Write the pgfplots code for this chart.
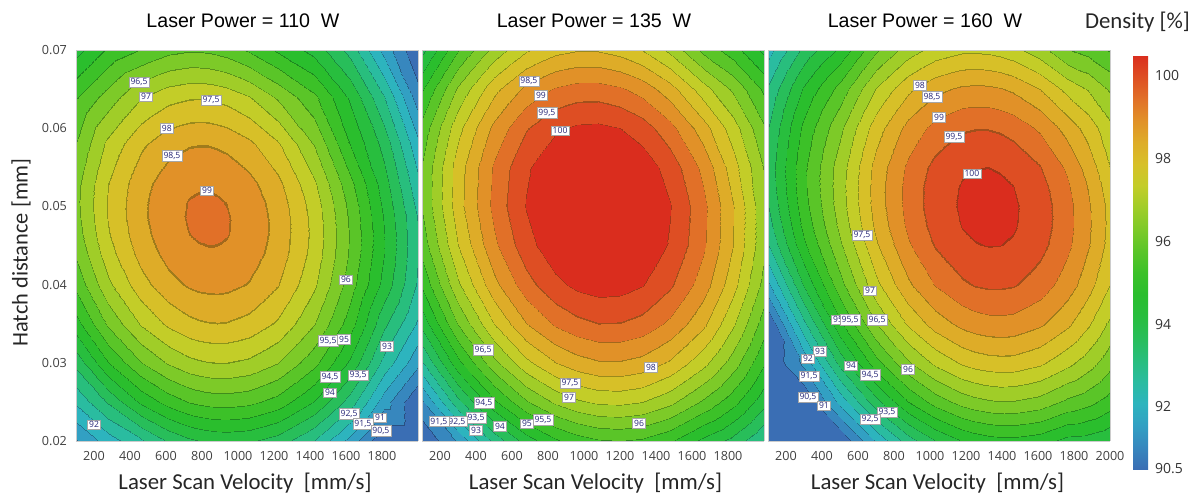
\documentclass[border=0pt]{standalone}
\usepackage{pgfplots}
\pgfplotsset{compat=1.18}
\usepackage{fontspec}
\setmainfont{Liberation Sans}
\newfontfamily\calib{Carlito}
\newfontfamily\tickf{Open Sans}

% band colours (one per 0.5 % band from 90.5 to 100.5); each band ends with a thin darker strip = contour line
\def\cmapspec{}
\newcommand\addband[4]{%
  \pgfmathtruncatemacro\nb{32-#4}%
  \foreach \k in {1,...,\nb}{\xdef\cmapspec{\cmapspec rgb255=(#1,#2,#3) }}%
  \ifnum#4>0
    \pgfmathtruncatemacro\dr{#1*0.72}\pgfmathtruncatemacro\dg{#2*0.72}\pgfmathtruncatemacro\db{#3*0.72}%
    \foreach \k in {1,...,#4}{\xdef\cmapspec{\cmapspec rgb255=(\dr,\dg,\db) }}%
  \fi}
\addband{58}{110}{180}{2}
\addband{55}{135}{190}{2}
\addband{50}{160}{195}{2}
\addband{45}{180}{190}{2}
\addband{42}{188}{160}{2}
\addband{40}{190}{125}{2}
\addband{40}{190}{90}{2}
\addband{40}{190}{62}{2}
\addband{42}{190}{45}{2}
\addband{60}{193}{40}{2}
\addband{90}{197}{40}{2}
\addband{125}{202}{40}{2}
\addband{160}{205}{40}{2}
\addband{195}{205}{40}{2}
\addband{215}{192}{40}{2}
\addband{222}{172}{40}{2}
\addband{225}{145}{40}{1}
\addband{225}{112}{40}{2}
\addband{222}{78}{35}{1}
\addband{218}{45}{30}{0}
\edef\tmp{\noexpand\pgfplotsset{colormap={denslines}{\cmapspec}}}\tmp

\pgfplotsset{
  colormap={densbar}{
    rgb255=(58,110,180) rgb255=(55,135,190) rgb255=(50,160,195) rgb255=(45,180,190)
    rgb255=(42,188,160) rgb255=(40,190,125) rgb255=(40,190,90) rgb255=(40,190,62)
    rgb255=(42,190,45) rgb255=(60,193,40) rgb255=(90,197,40) rgb255=(125,202,40)
    rgb255=(160,205,40) rgb255=(195,205,40) rgb255=(215,192,40) rgb255=(222,172,40)
    rgb255=(225,145,40) rgb255=(225,112,40) rgb255=(222,78,35) rgb255=(218,45,30)
  },
  panel/.style={
    scale only axis, width=171pt, height=195.5pt,
    view={0}{90},
    xmin=100, xmax=2000, ymin=0.02, ymax=0.07,
    enlargelimits=false,
    scaled x ticks=false, scaled y ticks=false,
    colormap name=denslines,
    colormap access=piecewise constant,
    point meta min=90.5, point meta max=100.5,
    xtick={200,400,600,800,1000,1200,1400,1600,1800},
    xticklabels={200,400,600,800,1000,1200,1400,1600,1800},
    ytick={0.02,0.03,0.04,0.05,0.06,0.07},
    ztick=\empty,
    major tick length=0pt,
    axis line style={draw=black!20, line width=0.3pt},
    tick label style={font=\tickf\fontsize{6.3}{7}\selectfont, text=black!75},
    xticklabel style={yshift=-1.5pt},
    yticklabel style={xshift=-1pt},
    /pgf/number format/assume math mode=true,
  },
}
\tikzset{lbl/.style={draw=black!35, line width=0.25pt, fill=white, inner sep=0.8pt,
  font=\tickf\fontsize{4.3}{5}\selectfont, text=black!55!blue!70!gray}}

\begin{document}
\begin{tikzpicture}
\useasboundingbox (0,0) rectangle (598pt,-248.5pt);

% ---------------- Panel 1: 110 W
\begin{axis}[panel, at={(38pt,-220.5pt)}, anchor=south west,
  yticklabels={0.02,0.03,0.04,0.05,0.06,0.07}]
\addplot3[surf, shader=interp, mesh/cols=15] table {
x y z
100 0.020 91.42
280 0.020 92.22
460 0.020 92.89
610 0.020 93.53
730 0.020 93.87
780 0.020 93.97
833 0.020 94.04
885 0.020 94.09
940 0.020 94.11
1060 0.020 94.05
1220 0.020 93.74
1420 0.020 92.97
1620 0.020 91.80
1810 0.020 90.31
2000 0.020 88.44

100 0.025 92.58
280 0.025 93.55
460 0.025 94.58
610 0.025 95.18
730 0.025 95.50
780 0.025 95.59
833 0.025 95.66
885 0.025 95.69
940 0.025 95.70
1060 0.025 95.61
1220 0.025 95.27
1420 0.025 94.46
1620 0.025 93.25
1810 0.025 91.71
2000 0.025 90.50

100 0.030 93.64
280 0.030 94.96
460 0.030 95.96
610 0.030 96.53
730 0.030 96.83
780 0.030 96.90
833 0.030 96.96
885 0.030 96.98
940 0.030 96.98
1060 0.030 96.87
1220 0.030 96.49
1420 0.030 95.64
1620 0.030 94.39
1810 0.030 92.81
2000 0.030 91.60

100 0.035 94.78
280 0.035 96.07
460 0.035 97.03
610 0.035 97.57
730 0.035 97.84
780 0.035 97.91
833 0.035 97.95
885 0.035 97.97
940 0.035 97.95
1060 0.035 97.81
1220 0.035 97.40
1420 0.035 96.51
1620 0.035 95.22
1810 0.035 93.60
2000 0.035 92.40

100 0.040 95.62
280 0.040 96.87
460 0.040 97.79
610 0.040 98.30
730 0.040 98.54
780 0.040 98.60
833 0.040 98.63
885 0.040 98.64
940 0.040 98.61
1060 0.040 98.45
1220 0.040 98.00
1420 0.040 97.07
1620 0.040 95.73
1810 0.040 94.30
2000 0.040 92.90

100 0.044 96.06
280 0.044 97.28
460 0.044 98.17
610 0.044 98.66
730 0.044 98.88
780 0.044 98.93
833 0.044 98.95
885 0.044 98.95
940 0.044 98.92
1060 0.044 98.73
1220 0.044 98.26
1420 0.044 97.30
1620 0.044 95.92
1810 0.044 94.50
2000 0.044 93.00

100 0.0465 96.24
280 0.0465 97.44
460 0.0465 98.31
610 0.0465 98.78
730 0.0465 98.99
780 0.0465 99.04
833 0.0465 99.06
885 0.0465 99.05
940 0.0465 99.01
1060 0.0465 98.81
1220 0.0465 98.32
1420 0.0465 97.34
1620 0.0465 95.94
1810 0.0465 94.50
2000 0.0465 93.00

100 0.0485 96.32
280 0.0485 97.51
460 0.0485 98.37
610 0.0485 98.83
730 0.0485 99.03
780 0.0485 99.07
833 0.0485 99.08
885 0.0485 99.07
940 0.0485 99.02
1060 0.0485 98.82
1220 0.0485 98.31
1420 0.0485 97.31
1620 0.0485 95.90
1810 0.0485 94.45
2000 0.0485 92.95

100 0.0505 96.36
280 0.0505 97.53
460 0.0505 98.37
610 0.0505 98.82
730 0.0505 99.01
780 0.0505 99.04
833 0.0505 99.05
885 0.0505 99.03
940 0.0505 98.98
1060 0.0505 98.77
1220 0.0505 98.25
1420 0.0505 97.24
1620 0.0505 95.81
1810 0.0505 94.35
2000 0.0505 92.80

100 0.053 96.32
280 0.053 97.47
460 0.053 98.30
610 0.053 98.73
730 0.053 98.91
780 0.053 98.94
833 0.053 98.94
885 0.053 98.92
940 0.053 98.86
1060 0.053 98.63
1220 0.053 98.10
1420 0.053 97.06
1620 0.053 95.62
1810 0.053 94.20
2000 0.053 92.60

100 0.058 95.99
280 0.058 97.11
460 0.058 97.89
610 0.058 98.29
730 0.058 98.44
780 0.058 98.46
833 0.058 98.46
885 0.058 98.42
940 0.058 98.36
1060 0.058 98.10
1220 0.058 97.54
1420 0.058 96.46
1620 0.058 94.97
1810 0.058 93.80
2000 0.058 92.10

100 0.064 95.44
280 0.064 96.21
460 0.064 96.95
610 0.064 97.31
730 0.064 97.43
780 0.064 97.44
833 0.064 97.42
885 0.064 97.37
940 0.064 97.29
1060 0.064 97.01
1220 0.064 96.40
1420 0.064 95.60
1620 0.064 94.40
1810 0.064 93.00
2000 0.064 91.20

100 0.070 94.29
280 0.070 95.07
460 0.070 95.51
610 0.070 95.83
730 0.070 95.93
780 0.070 95.92
833 0.070 95.89
885 0.070 95.83
940 0.070 95.74
1060 0.070 95.42
1220 0.070 94.90
1420 0.070 94.30
1620 0.070 93.30
1810 0.070 91.80
2000 0.070 90.00
};
\node[lbl] at (axis cs:450,0.0659,100) {96,5};
\node[lbl] at (axis cs:489,0.0640,100) {97};
\node[lbl] at (axis cs:850,0.0636,100) {97,5};
\node[lbl] at (axis cs:605,0.0600,100) {98};
\node[lbl] at (axis cs:633,0.0565,100) {98,5};
\node[lbl] at (axis cs:828,0.0520,100) {99};
\node[lbl] at (axis cs:1600,0.0406,100) {96};
\node[lbl] at (axis cs:1500,0.0328,100) {95,5};
\node[lbl] at (axis cs:1589,0.0330,100) {95};
\node[lbl] at (axis cs:1828,0.0321,100) {93};
\node[lbl] at (axis cs:1511,0.0282,100) {94,5};
\node[lbl] at (axis cs:1667,0.0284,100) {93,5};
\node[lbl] at (axis cs:1511,0.0262,100) {94};
\node[lbl] at (axis cs:1617,0.0235,100) {92,5};
\node[lbl] at (axis cs:1694,0.0222,100) {91,5};
\node[lbl] at (axis cs:1789,0.0230,100) {91};
\node[lbl] at (axis cs:1794,0.0213,100) {90,5};
\node[lbl] at (axis cs:200,0.0221,100) {92};
\end{axis}

% ---------------- Panel 2: 135 W
\begin{axis}[panel, at={(211pt,-220.5pt)}, anchor=south west, yticklabels={}]
\addplot3[surf, shader=interp, mesh/cols=13] table {
x y z
100 0.020 89.58
300 0.020 91.55
500 0.020 93.12
680 0.020 94.20
840 0.020 94.88
960 0.020 95.22
1080 0.020 95.42
1200 0.020 95.48
1320 0.020 95.39
1480 0.020 95.05
1660 0.020 94.35
1830 0.020 93.81
2000 0.020 92.97

100 0.025 91.40
300 0.025 93.34
500 0.025 94.88
680 0.025 95.92
840 0.025 96.57
960 0.025 96.89
1080 0.025 97.07
1200 0.025 97.10
1320 0.025 96.99
1480 0.025 96.62
1660 0.025 95.90
1830 0.025 95.17
2000 0.025 94.15

100 0.030 92.92
300 0.030 94.83
500 0.030 96.33
680 0.030 97.34
840 0.030 97.96
960 0.030 98.26
1080 0.030 98.42
1200 0.030 98.43
1320 0.030 98.30
1480 0.030 97.90
1660 0.030 97.15
1830 0.030 96.24
2000 0.030 95.04

100 0.035 94.15
300 0.035 96.01
500 0.035 97.48
680 0.035 98.46
840 0.035 99.06
960 0.035 99.33
1080 0.035 99.47
1200 0.035 99.46
1320 0.035 99.31
1480 0.035 98.88
1660 0.035 98.10
1830 0.035 97.06
2000 0.035 95.73

100 0.040 95.07
300 0.040 96.90
500 0.040 98.33
680 0.040 99.28
840 0.040 99.85
960 0.040 100.11
1080 0.040 100.22
1200 0.040 100.19
1320 0.040 100.02
1480 0.040 99.56
1660 0.040 98.74
1830 0.040 97.67
2000 0.040 96.31

100 0.045 95.70
300 0.045 97.49
500 0.045 98.89
680 0.045 99.80
840 0.045 100.34
960 0.045 100.58
1080 0.045 100.67
1200 0.045 100.62
1320 0.045 100.42
1480 0.045 99.94
1660 0.045 99.09
1830 0.045 97.99
2000 0.045 96.60

100 0.050 96.02
300 0.050 97.78
500 0.050 99.14
680 0.050 100.02
840 0.050 100.53
960 0.050 100.75
1080 0.050 100.82
1200 0.050 100.75
1320 0.050 100.53
1480 0.050 100.02
1660 0.050 99.14
1830 0.050 98.01
2000 0.050 96.59

100 0.055 96.01
300 0.055 97.74
500 0.055 99.06
680 0.055 99.91
840 0.055 100.39
960 0.055 100.59
1080 0.055 100.64
1200 0.055 100.55
1320 0.055 100.31
1480 0.055 99.77
1660 0.055 98.86
1830 0.055 97.70
2000 0.055 96.45

100 0.060 95.65
300 0.060 97.33
500 0.060 98.62
680 0.060 99.44
840 0.060 99.90
960 0.060 100.07
1080 0.060 100.10
1200 0.060 99.99
1320 0.060 99.73
1480 0.060 99.16
1660 0.060 98.21
1830 0.060 97.22
2000 0.060 96.04

100 0.065 94.92
300 0.065 96.57
500 0.065 97.83
680 0.065 98.61
840 0.065 99.04
960 0.065 99.19
1080 0.065 99.20
1200 0.065 99.06
1320 0.065 98.79
1480 0.065 98.19
1660 0.065 97.21
1830 0.065 96.39
2000 0.065 95.38

100 0.070 93.83
300 0.070 95.45
500 0.070 96.67
680 0.070 97.42
840 0.070 97.82
960 0.070 97.95
1080 0.070 97.94
1200 0.070 97.78
1320 0.070 97.48
1480 0.070 96.86
1660 0.070 95.85
1830 0.070 95.20
2000 0.070 94.36
};
\node[lbl] at (axis cs:694,0.0660,100) {98,5};
\node[lbl] at (axis cs:761,0.0642,100) {99};
\node[lbl] at (axis cs:794,0.0620,100) {99,5};
\node[lbl] at (axis cs:867,0.0597,100) {100};
\node[lbl] at (axis cs:439,0.0317,100) {96,5};
\node[lbl] at (axis cs:1372,0.0294,100) {98};
\node[lbl] at (axis cs:922,0.0274,100) {97,5};
\node[lbl] at (axis cs:917,0.0256,100) {97};
\node[lbl] at (axis cs:1306,0.0223,100) {96};
\node[lbl] at (axis cs:772,0.0227,100) {95,5};
\node[lbl] at (axis cs:683,0.0222,100) {95};
\node[lbl] at (axis cs:533,0.0219,100) {94};
\node[lbl] at (axis cs:444,0.0249,100) {94,5};
\node[lbl] at (axis cs:400,0.0230,100) {93,5};
\node[lbl] at (axis cs:400,0.0214,100) {93};
\node[lbl] at (axis cs:294,0.0225,100) {92,5};
\node[lbl] at (axis cs:194,0.0225,100) {91,5};
\end{axis}

% ---------------- Panel 3: 160 W
\begin{axis}[panel, at={(384pt,-220.5pt)}, anchor=south west, yticklabels={},
  xtick={200,400,600,800,1000,1200,1400,1600,1800,2000},
  xticklabels={200,400,600,800,1000,1200,1400,1600,1800,2000}]
\addplot3[surf, shader=interp, mesh/cols=15] table {
x y z
100 0.020 85.67
300 0.020 88.20
500 0.020 90.32
700 0.020 92.04
880 0.020 93.23
1030 0.020 93.97
1180 0.020 94.49
1250 0.020 94.65
1320 0.020 94.76
1390 0.020 94.82
1460 0.020 94.83
1610 0.020 94.69
1760 0.020 94.31
1880 0.020 94.25
2000 0.020 94.04

100 0.025 87.57
300 0.025 90.06
500 0.025 92.14
700 0.025 93.81
880 0.025 94.97
1030 0.025 95.68
1180 0.025 96.17
1250 0.025 96.31
1320 0.025 96.41
1390 0.025 96.46
1460 0.025 96.45
1610 0.025 96.28
1760 0.025 95.87
1880 0.025 95.64
2000 0.025 95.25

100 0.030 89.17
300 0.030 91.62
500 0.030 93.66
700 0.030 95.29
880 0.030 96.41
1030 0.030 97.09
1180 0.030 97.55
1250 0.030 97.68
1320 0.030 97.76
1390 0.030 97.79
1460 0.030 97.78
1610 0.030 97.57
1760 0.030 97.13
1880 0.030 96.72
2000 0.030 96.16

100 0.035 90.47
300 0.035 92.88
500 0.035 94.88
700 0.035 96.47
880 0.035 97.55
1030 0.035 98.20
1180 0.035 98.62
1250 0.035 98.74
1320 0.035 98.81
1390 0.035 98.83
1460 0.035 98.80
1610 0.035 98.56
1760 0.035 98.09
1880 0.035 97.56
2000 0.035 96.87

100 0.040 91.87
300 0.040 94.04
500 0.040 95.80
700 0.040 97.35
880 0.040 98.39
1030 0.040 99.01
1180 0.040 99.40
1250 0.040 99.51
1320 0.040 99.56
1390 0.040 99.56
1460 0.040 99.52
1610 0.040 99.25
1760 0.040 98.75
1880 0.040 98.19
2000 0.040 97.48

100 0.045 92.97
300 0.045 94.90
500 0.045 96.41
700 0.045 97.92
880 0.045 98.93
1030 0.045 99.52
1180 0.045 99.88
1250 0.045 99.97
1320 0.045 100.01
1390 0.045 100.00
1460 0.045 99.94
1610 0.045 99.64
1760 0.045 99.11
1880 0.045 98.53
2000 0.045 97.79

100 0.0475 93.26
300 0.0475 95.14
500 0.0475 96.61
700 0.0475 98.10
880 0.0475 99.09
1030 0.0475 99.66
1180 0.0475 100.01
1250 0.0475 100.09
1320 0.0475 100.12
1390 0.0475 100.10
1460 0.0475 100.04
1610 0.0475 99.72
1760 0.0475 99.18
1880 0.0475 98.58
2000 0.0475 97.83

100 0.050 93.47
300 0.050 95.30
500 0.050 96.73
700 0.050 98.20
880 0.050 99.17
1030 0.050 99.73
1180 0.050 100.06
1250 0.050 100.14
1320 0.050 100.16
1390 0.050 100.14
1460 0.050 100.06
1610 0.050 99.73
1760 0.050 99.17
1880 0.050 98.56
2000 0.050 97.80

100 0.0525 93.60
300 0.0525 95.39
500 0.0525 96.77
700 0.0525 98.22
880 0.0525 99.17
1030 0.0525 99.72
1180 0.0525 100.03
1250 0.0525 100.10
1320 0.0525 100.12
1390 0.0525 100.08
1460 0.0525 100.00
1610 0.0525 99.66
1760 0.0525 99.08
1880 0.0525 98.46
2000 0.0525 97.69

100 0.055 93.65
300 0.055 95.39
500 0.055 96.73
700 0.055 98.16
880 0.055 99.09
1030 0.055 99.62
1180 0.055 99.92
1250 0.055 99.97
1320 0.055 99.99
1390 0.055 99.95
1460 0.055 99.86
1610 0.055 99.50
1760 0.055 98.91
1880 0.055 98.28
2000 0.055 97.49

100 0.060 93.47
300 0.060 95.12
500 0.060 96.37
700 0.060 97.75
880 0.060 98.65
1030 0.060 99.15
1180 0.060 99.42
1250 0.060 99.46
1320 0.060 99.46
1390 0.060 99.41
1460 0.060 99.30
1610 0.060 98.91
1760 0.060 98.29
1880 0.060 97.78
2000 0.060 97.12

100 0.065 93.05
300 0.065 94.56
500 0.065 95.67
700 0.065 97.01
880 0.065 97.87
1030 0.065 98.34
1180 0.065 98.58
1250 0.065 98.60
1320 0.065 98.59
1390 0.065 98.52
1460 0.065 98.40
1610 0.065 97.98
1760 0.065 97.33
1880 0.065 96.95
2000 0.065 96.41

100 0.070 92.27
300 0.070 93.64
500 0.070 94.60
700 0.070 95.91
880 0.070 96.73
1030 0.070 97.17
1180 0.070 97.38
1250 0.070 97.39
1320 0.070 97.36
1390 0.070 97.28
1460 0.070 97.15
1610 0.070 96.69
1760 0.070 96.01
1880 0.070 95.80
2000 0.070 95.44
};
\node[lbl] at (axis cs:944,0.0655,100) {98};
\node[lbl] at (axis cs:1011,0.0640,100) {98,5};
\node[lbl] at (axis cs:1050,0.0614,100) {99};
\node[lbl] at (axis cs:1133,0.0589,100) {99,5};
\node[lbl] at (axis cs:1233,0.0542,100) {100};
\node[lbl] at (axis cs:622,0.0463,100) {97,5};
\node[lbl] at (axis cs:667,0.0392,100) {97};
\node[lbl] at (axis cs:489,0.0355,100) {95};
\node[lbl] at (axis cs:556,0.0355,100) {95,5};
\node[lbl] at (axis cs:706,0.0355,100) {96,5};
\node[lbl] at (axis cs:389,0.0315,100) {93};
\node[lbl] at (axis cs:322,0.0305,100) {92};
\node[lbl] at (axis cs:561,0.0296,100) {94};
\node[lbl] at (axis cs:667,0.0285,100) {94,5};
\node[lbl] at (axis cs:878,0.0292,100) {96};
\node[lbl] at (axis cs:328,0.0283,100) {91,5};
\node[lbl] at (axis cs:322,0.0256,100) {90,5};
\node[lbl] at (axis cs:411,0.0245,100) {91};
\node[lbl] at (axis cs:761,0.0237,100) {93,5};
\node[lbl] at (axis cs:667,0.0228,100) {92,5};
\end{axis}

% ---------------- colour bar (smooth colormap), attached to an invisible axis over panel 3
\begin{axis}[at={(384pt,-220.5pt)}, anchor=south west, scale only axis,
  width=171pt, height=195.5pt, hide axis, xmin=0, xmax=1, ymin=0, ymax=1,
  colormap name=densbar, point meta min=90.5, point meta max=100.5,
  colorbar,
  colorbar style={
    at={(parent axis.north east)}, anchor=north west, xshift=3pt, yshift=-2.5pt,
    width=7.5pt, height=207pt,
    ytick={90.5,92,94,96,98,100}, yticklabels={90.5,92,94,96,98,100},
    major tick length=0pt, axis line style={draw=none},
    yticklabel style={font=\tickf\fontsize{7}{8}\selectfont, text=black!80, xshift=0pt},
  }]
\addplot[draw=none] coordinates {(0.5,0.5)};
\end{axis}

% ---------------- texts
\node[font=\fontsize{9.8}{11}\selectfont] at (121.5pt,-10.5pt) {Laser Power = 110\ \ W};
\node[font=\fontsize{9.8}{11}\selectfont] at (297pt,-10.5pt) {Laser Power = 135\ \ W};
\node[font=\fontsize{9.8}{11}\selectfont] at (462.5pt,-10.5pt) {Laser Power = 160\ \ W};
\node[font=\calib\fontsize{11.4}{13}\selectfont, text=black!85] at (568.75pt,-11pt) {Density [\%]};
\node[font=\calib\fontsize{11.4}{13}\selectfont, text=black!85] at (122.5pt,-241.5pt) {Laser Scan Velocity\ \ [mm/s]};
\node[font=\calib\fontsize{11.4}{13}\selectfont, text=black!85] at (297.75pt,-241.5pt) {Laser Scan Velocity\ \ [mm/s]};
\node[font=\calib\fontsize{11.4}{13}\selectfont, text=black!85] at (468.75pt,-241.5pt) {Laser Scan Velocity\ \ [mm/s]};
\node[font=\calib\fontsize{11.2}{13}\selectfont, text=black!85, rotate=90] at (10.5pt,-126.25pt) {Hatch distance [mm]};
\end{tikzpicture}
\end{document}
